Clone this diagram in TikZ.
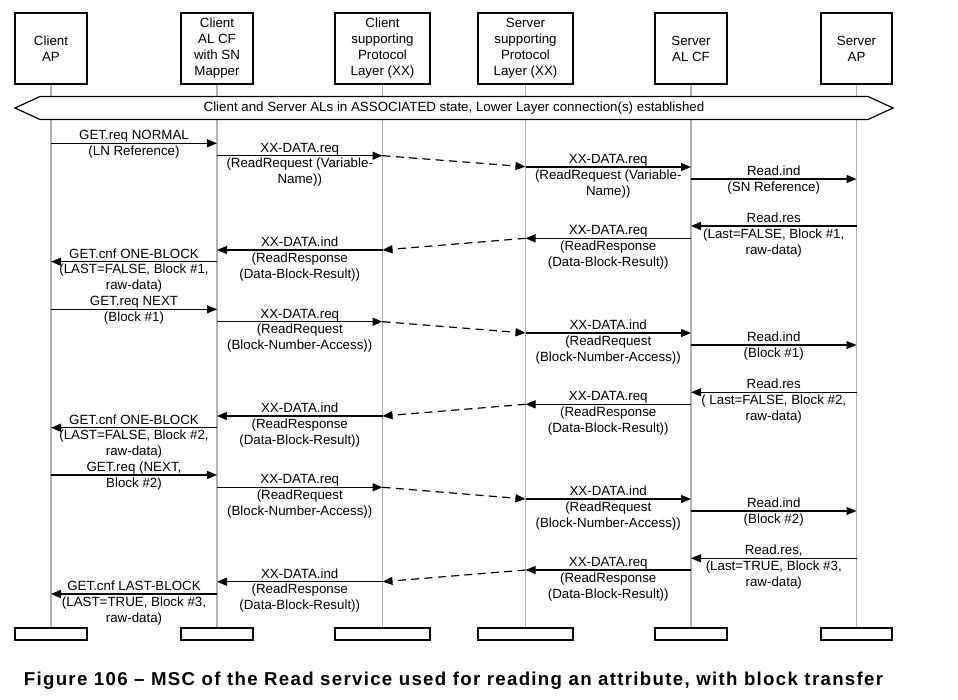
\documentclass[tikz,border=0pt]{standalone}
\usepackage{fontspec}
\setmainfont{Liberation Sans}
\newfontfamily\capfont[LetterSpace=7]{Liberation Sans}
\usetikzlibrary{arrows.meta,calc}
\tikzset{
  txt/.style={font=\fontsize{10}{12}\selectfont, align=center},
  hdrbox/.style={txt, draw, line width=0.9pt, minimum height=53.25pt, inner sep=0pt},
  endbox/.style={draw, line width=0.9pt, minimum height=9pt, inner sep=0pt},
  life/.style={draw=black!30, line width=1.1pt},
  msgline/.style={line width=0.9pt, -{Triangle[length=7.5pt,width=6pt]}},
  dashline/.style={msgline, dash pattern=on 6pt off 4pt},
  toplbl/.style={txt, anchor=base, inner sep=0pt},
  botlbl/.style={txt, anchor=north, inner sep=0pt},
}
\newcommand\mscmsg[6]{%
  \coordinate (#1a) at (#2 |- 0,#4);
  \coordinate (#1b) at (#3 |- 0,#4);
  \draw[msgline] (#1a) -- (#1b);
  \node[toplbl] (#1t) at ($(#1a)!0.5!(#1b)+(0,-3.5)$) {#5};
  \node[botlbl] (#1l) at ($(#1a)!0.5!(#1b)+(0,2.3)$) {#6};
}
\newcommand\mscdash[5]{%
  \coordinate (#1a) at (#2 |- 0,#4);
  \coordinate (#1b) at (#3 |- 0,#5);
  \draw[dashline] (#1a) -- (#1b);
}
\begin{document}
\begin{tikzpicture}[x=0.75pt,y=-0.75pt]
\useasboundingbox (0,0) rectangle (958,700);
\fill[white] (0,0) rectangle (958,700);
% header boxes
\node[hdrbox, minimum width=54pt] (h1) at (51,48.5) {Client\\AP};
\node[hdrbox, minimum width=54pt] (h2) at (217,48.5) {Client\\AL CF\\with SN\\Mapper};
\node[hdrbox, minimum width=71.25pt] (h3) at (382.5,48.5) {Client\\supporting\\Protocol\\Layer (XX)};
\node[hdrbox, minimum width=71.25pt] (h4) at (525.5,48.5) {Server\\supporting\\Protocol\\Layer (XX)};
\node[hdrbox, minimum width=54pt] (h5) at (691,48.5) {Server\\AL CF};
\node[hdrbox, minimum width=53.25pt] (h6) at (856.5,48.5) {Server\\AP};
% end boxes
\node[endbox, minimum width=54pt] (b1) at (51,634) {};
\node[endbox, minimum width=54pt] (b2) at (217,634) {};
\node[endbox, minimum width=71.25pt] (b3) at (382.5,634) {};
\node[endbox, minimum width=71.25pt] (b4) at (525.5,634) {};
\node[endbox, minimum width=54pt] (b5) at (691,634) {};
\node[endbox, minimum width=53.25pt] (b6) at (856.5,634) {};
% lifelines
\foreach \i in {1,...,6} {\draw[life] (h\i.south) -- (b\i.north);}
% banner
\draw[line width=0.9pt, fill=white] (15,108) -- (40,96.5) -- (868,96.5) -- (893,108) -- (868,119.5) -- (40,119.5) -- cycle;
\node[txt, inner sep=0pt] (banner) at (454,108) {Client and Server ALs in ASSOCIATED state, Lower Layer connection(s) established};
% block 1
\mscmsg{m1}{h1}{h2}{143.3}{GET.req NORMAL}{(LN Reference)}
\mscmsg{m2}{h2}{h3}{155.7}{XX-DATA.req}{(ReadRequest (Variable-\\Name))}
\mscdash{d1}{h3}{h4}{155.7}{166.7}
\mscmsg{m3}{h4}{h5}{167}{XX-DATA.req}{(ReadRequest (Variable-\\Name))}
\mscmsg{m4}{h5}{h6}{179}{Read.ind}{(SN Reference)}
\mscmsg{m5}{h6}{h5}{226}{Read.res}{(Last=FALSE, Block \#1,\\raw-data)}
\mscmsg{m6}{h5}{h4}{238.3}{XX-DATA.req}{(ReadResponse\\(Data-Block-Result))}
\mscdash{d2}{h4}{h3}{238.3}{250}
\mscmsg{m7}{h3}{h2}{250}{XX-DATA.ind}{(ReadResponse\\(Data-Block-Result))}
\mscmsg{m8}{h2}{h1}{261.7}{GET.cnf ONE-BLOCK}{(LAST=FALSE, Block \#1,\\raw-data)}
% block 2
\mscmsg{m9}{h1}{h2}{309.3}{GET.req NEXT}{(Block \#1)}
\mscmsg{m10}{h2}{h3}{321.7}{XX-DATA.req}{(ReadRequest\\(Block-Number-Access))}
\mscdash{d3}{h3}{h4}{321.7}{333}
\mscmsg{m11}{h4}{h5}{333}{XX-DATA.ind}{(ReadRequest\\(Block-Number-Access))}
\mscmsg{m12}{h5}{h6}{345}{Read.ind}{(Block \#1)}
\mscmsg{m13}{h6}{h5}{392.3}{Read.res}{( Last=FALSE, Block \#2,\\raw-data)}
\mscmsg{m14}{h5}{h4}{404.3}{XX-DATA.req}{(ReadResponse\\(Data-Block-Result))}
\mscdash{d4}{h4}{h3}{404.3}{416}
\mscmsg{m15}{h3}{h2}{416}{XX-DATA.ind}{(ReadResponse\\(Data-Block-Result))}
\mscmsg{m16}{h2}{h1}{427.7}{GET.cnf ONE-BLOCK}{(LAST=FALSE, Block \#2,\\raw-data)}
% block 3
\mscmsg{m17}{h1}{h2}{475}{GET.req (NEXT,}{Block \#2)}
\mscmsg{m18}{h2}{h3}{487.3}{XX-DATA.req}{(ReadRequest\\(Block-Number-Access))}
\mscdash{d5}{h3}{h4}{487.3}{499}
\mscmsg{m19}{h4}{h5}{499}{XX-DATA.ind}{(ReadRequest\\(Block-Number-Access))}
\mscmsg{m20}{h5}{h6}{511}{Read.ind}{(Block \#2)}
\mscmsg{m21}{h6}{h5}{558.3}{Read.res,}{(Last=TRUE, Block \#3,\\raw-data)}
\mscmsg{m22}{h5}{h4}{570}{XX-DATA.req}{(ReadResponse\\(Data-Block-Result))}
\mscdash{d6}{h4}{h3}{570}{581.7}
\mscmsg{m23}{h3}{h2}{581.7}{XX-DATA.ind}{(ReadResponse\\(Data-Block-Result))}
\mscmsg{m24}{h2}{h1}{594}{GET.cnf LAST-BLOCK}{(LAST=TRUE, Block \#3,\\raw-data)}
% caption
\node[font=\capfont\bfseries\fontsize{14}{16}\selectfont, inner sep=0pt, anchor=base] (cap) at (453.5,685) {Figure 106 – MSC of the Read service used for reading an attribute, with block transfer};
\end{tikzpicture}
\end{document}
